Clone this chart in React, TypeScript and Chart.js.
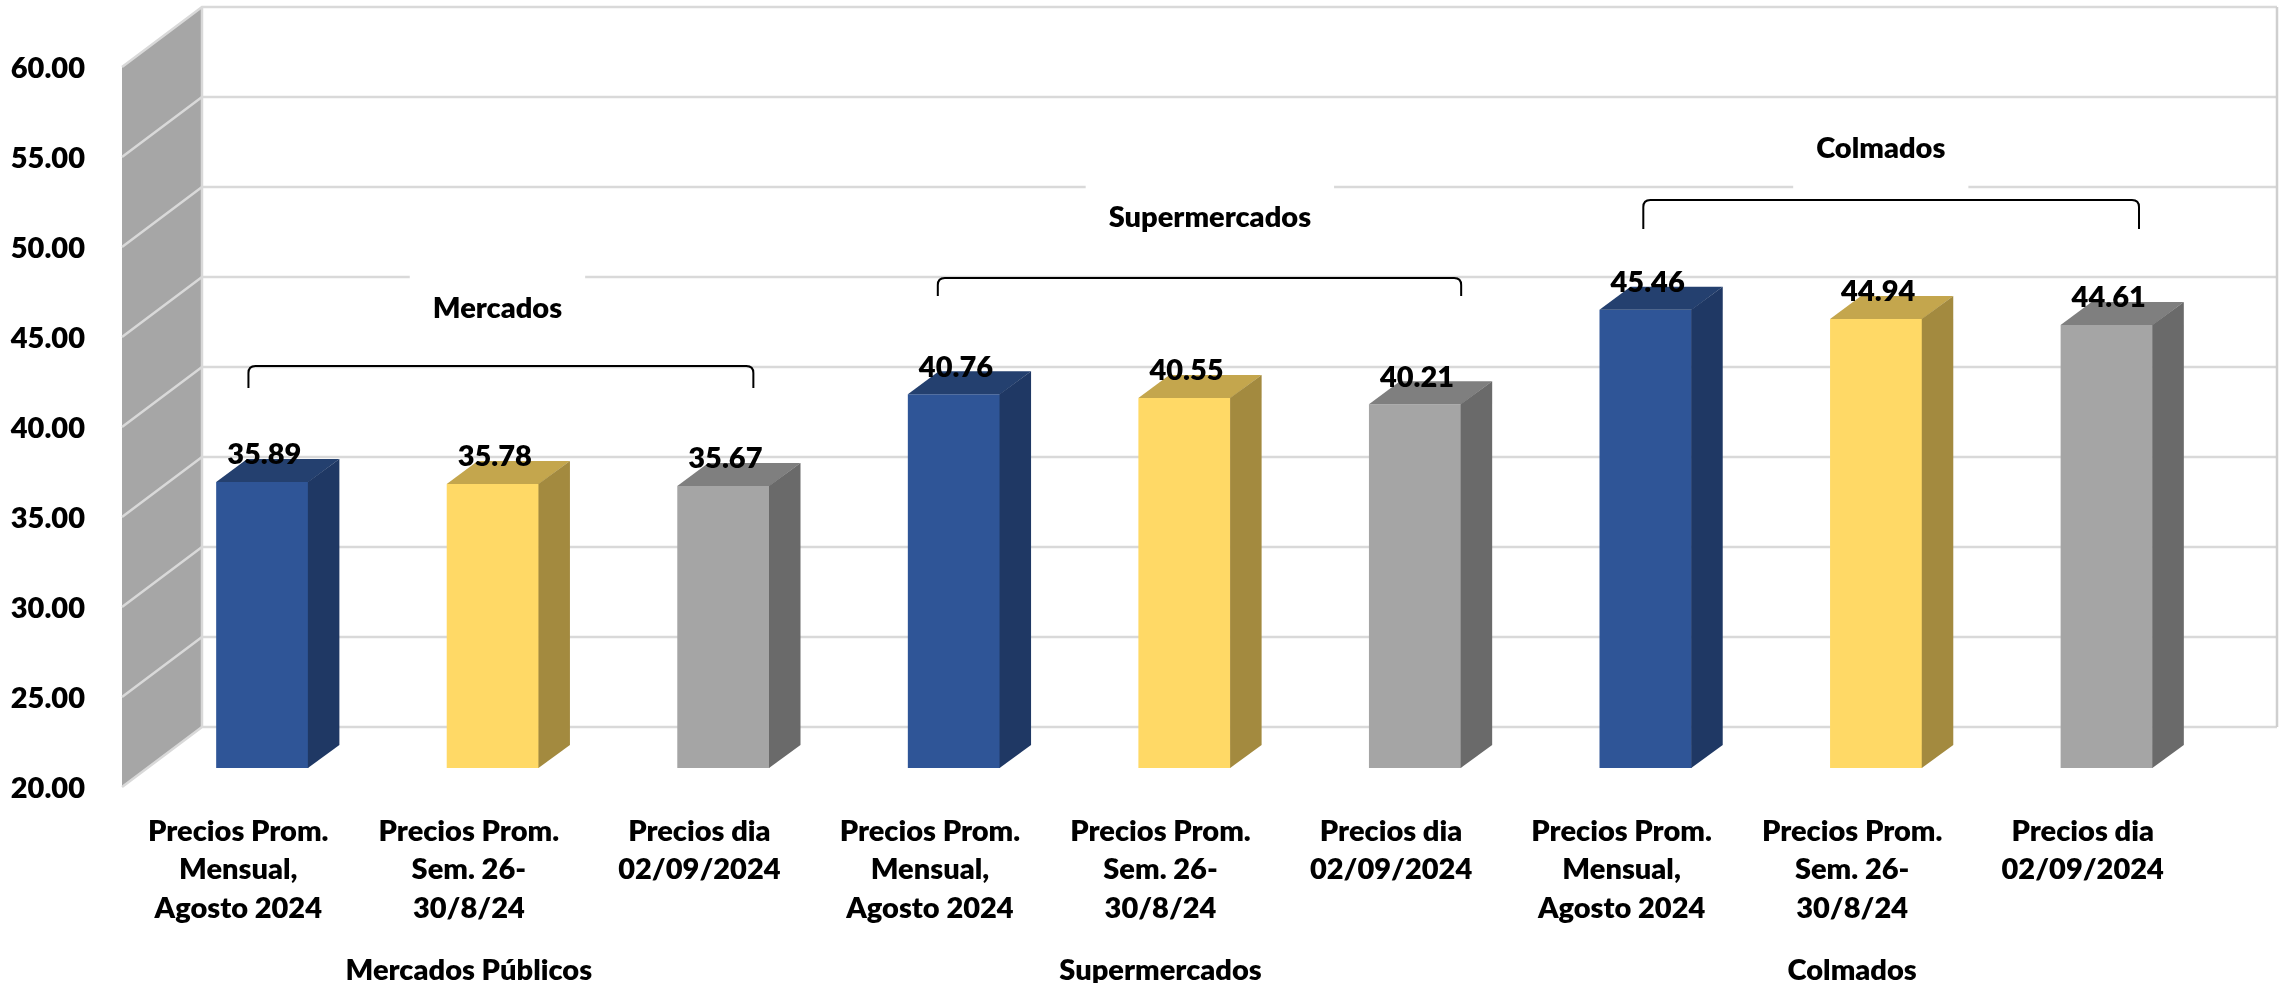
import React, { useEffect, useRef } from 'react';
import { Chart, registerables } from 'chart.js';

Chart.register(...registerables);

// ---------- data ----------
const groupNames = ['Mercados Públicos', 'Supermercados', 'Colmados'];
const periodLabels: string[][] = [
  ['Precios Prom.', 'Mensual,', 'Agosto 2024'],
  ['Precios Prom.', 'Sem. 26-', '30/8/24'],
  ['Precios dia', '02/09/2024'],
];
const mercadosValues = [35.89, 35.78, 35.67];
const supermercadosValues = [40.76, 40.55, 40.21];
const colmadosValues = [45.46, 44.94, 44.61];
const bracketTitles = ['Mercados', 'Supermercados', 'Colmados'];
const yTickValues = [20, 25, 30, 35, 40, 45, 50, 55, 60];

// ---------- styles ----------
const FRONT = ['#2F5597', '#FFD966', '#A5A5A5'];
const TOP = ['#24406F', '#C4A64D', '#7F7F7F'];
const SIDE = ['#1F3864', '#A38A3F', '#6A6A6A'];
const FONT_FAMILY = 'Lato';
const FONT_SIZE = 29;
const FONT_WEIGHT = '800';
const FONT = { family: FONT_FAMILY, weight: FONT_WEIGHT as any, size: FONT_SIZE };

// 3D geometry offsets (pixels)
const BAR_DEPTH = { dx: 31, dy: -23 };
const BACK_WALL = { dx: 55, dy: -41 };
const FRONT_EDGE = { dx: -25, dy: 19 };

// annotation placement: x in category index units, y in value units
const BRACKETS = [
  { x1: -0.06, x2: 2.13, yTop: 42.33, yEnd: 41.11, tx: 1.02, ty: 45.61 },
  { x1: 2.93, x2: 5.2, yTop: 47.22, yEnd: 46.22, tx: 4.11, ty: 50.67 },
  { x1: 5.99, x2: 8.14, yTop: 51.56, yEnd: 49.94, tx: 7.02, ty: 54.5 },
];

const categoryLabels = groupNames.flatMap(() => periodLabels);
const values = [...mercadosValues, ...supermercadosValues, ...colmadosValues];
const groupRow = groupNames.flatMap((g) => periodLabels.map((_, j) => (j === 1 ? g : '')));
const kindIndex = categoryLabels.map((_, i) => i % periodLabels.length);

const threeDPlugin = {
  id: 'threeD',
  beforeDatasetsDraw(chart: any) {
    const { ctx, chartArea: a } = chart;
    const x = chart.scales.x;
    const y = chart.scales.y;
    const yTop = y.getPixelForValue(y.max);
    const yBot = y.getPixelForValue(y.min);
    ctx.save();
    // left wall
    ctx.fillStyle = '#A6A6A6';
    ctx.beginPath();
    ctx.moveTo(a.left + FRONT_EDGE.dx, yTop + FRONT_EDGE.dy);
    ctx.lineTo(a.left + BACK_WALL.dx, yTop + BACK_WALL.dy);
    ctx.lineTo(a.left + BACK_WALL.dx, yBot + BACK_WALL.dy);
    ctx.lineTo(a.left + FRONT_EDGE.dx, yBot + FRONT_EDGE.dy);
    ctx.closePath();
    ctx.fill();
    // gridlines
    ctx.strokeStyle = '#D9D9D9';
    ctx.lineWidth = 2.5;
    yTickValues.forEach((v) => {
      const py = y.getPixelForValue(v);
      ctx.beginPath();
      ctx.moveTo(a.left + FRONT_EDGE.dx, py + FRONT_EDGE.dy);
      ctx.lineTo(a.left + BACK_WALL.dx, py + BACK_WALL.dy);
      ctx.lineTo(a.right + BACK_WALL.dx, py + BACK_WALL.dy);
      ctx.stroke();
    });
    ctx.beginPath();
    ctx.moveTo(a.left + BACK_WALL.dx, yTop + BACK_WALL.dy);
    ctx.lineTo(a.left + BACK_WALL.dx, yBot + BACK_WALL.dy);
    ctx.stroke();
    ctx.strokeStyle = '#CFCFCF';
    ctx.beginPath();
    ctx.moveTo(a.right + BACK_WALL.dx, yTop + BACK_WALL.dy);
    ctx.lineTo(a.right + BACK_WALL.dx, yBot + BACK_WALL.dy);
    ctx.stroke();

    // annotations (group titles with brackets)
    ctx.font = `${FONT_WEIGHT} ${FONT_SIZE}px ${FONT_FAMILY}`;
    ctx.textAlign = 'center';
    ctx.textBaseline = 'middle';
    BRACKETS.forEach((b, i) => {
      const tx = x.getPixelForValue(b.tx);
      const ty = y.getPixelForValue(b.ty);
      const w = ctx.measureText(bracketTitles[i]).width + 46;
      ctx.fillStyle = '#FFFFFF';
      ctx.fillRect(tx - w / 2, ty - 45, w, 90);
      ctx.fillStyle = '#000000';
      ctx.fillText(bracketTitles[i], tx, ty + 2);
      const x1 = x.getPixelForValue(b.x1);
      const x2 = x.getPixelForValue(b.x2);
      const yT = y.getPixelForValue(b.yTop);
      const yE = y.getPixelForValue(b.yEnd);
      const r = 7;
      ctx.strokeStyle = '#000000';
      ctx.lineWidth = 2;
      ctx.beginPath();
      ctx.moveTo(x1, yE);
      ctx.lineTo(x1, yT + r);
      ctx.quadraticCurveTo(x1, yT, x1 + r, yT);
      ctx.lineTo(x2 - r, yT);
      ctx.quadraticCurveTo(x2, yT, x2, yT + r);
      ctx.lineTo(x2, yE);
      ctx.stroke();
    });
    ctx.restore();
  },
  afterDatasetsDraw(chart: any) {
    const { ctx } = chart;
    const y = chart.scales.y;
    const floor = y.getPixelForValue(y.min);
    const meta = chart.getDatasetMeta(0);
    ctx.save();
    meta.data.forEach((el: any, i: number) => {
      const p = el.getProps(['x', 'y', 'base', 'width'], true);
      const l = p.x - p.width / 2;
      const r = p.x + p.width / 2;
      const top = p.y;
      const base = Math.min(p.base, floor);
      const k = kindIndex[i];
      ctx.fillStyle = TOP[k];
      ctx.beginPath();
      ctx.moveTo(l, top);
      ctx.lineTo(r, top);
      ctx.lineTo(r + BAR_DEPTH.dx, top + BAR_DEPTH.dy);
      ctx.lineTo(l + BAR_DEPTH.dx, top + BAR_DEPTH.dy);
      ctx.closePath();
      ctx.fill();
      ctx.fillStyle = SIDE[k];
      ctx.beginPath();
      ctx.moveTo(r - 0.5, top);
      ctx.lineTo(r + BAR_DEPTH.dx, top + BAR_DEPTH.dy);
      ctx.lineTo(r + BAR_DEPTH.dx, base + BAR_DEPTH.dy);
      ctx.lineTo(r - 0.5, base);
      ctx.closePath();
      ctx.fill();
    });
    ctx.font = `${FONT_WEIGHT} ${FONT_SIZE}px ${FONT_FAMILY}`;
    ctx.textAlign = 'center';
    ctx.textBaseline = 'middle';
    ctx.fillStyle = '#000000';
    meta.data.forEach((el: any, i: number) => {
      const p = el.getProps(['x', 'y'], true);
      ctx.fillText(values[i].toFixed(2), p.x + 2, p.y - 27);
    });
    ctx.restore();
  },
};

export default function App() {
  const canvasRef = useRef<HTMLCanvasElement | null>(null);

  useEffect(() => {
    const canvas = canvasRef.current;
    if (!canvas) return;
    const chart = new Chart(canvas, {
      type: 'bar',
      data: {
        labels: categoryLabels,
        datasets: [
          {
            data: values,
            backgroundColor: kindIndex.map((k) => FRONT[k]),
            borderWidth: 0,
            base: yTickValues[0],
            categoryPercentage: 1,
            barPercentage: 0.4,
          } as any,
        ],
      },
      options: {
        responsive: false,
        devicePixelRatio: 1,
        animation: false,
        layout: { padding: { top: 48, right: 63, left: 0, bottom: 0 } },
        plugins: {
          legend: { display: false },
          tooltip: { enabled: false },
        },
        scales: {
          x: {
            type: 'category',
            position: 'bottom',
            weight: 0,
            offset: true,
            grid: { display: false, drawTicks: false },
            border: { display: false },
            ticks: {
              color: '#000000',
              font: { ...FONT, lineHeight: 38.5 / FONT_SIZE },
              padding: 44,
              labelOffset: -24,
              autoSkip: false,
              maxRotation: 0,
              minRotation: 0,
            },
            afterFit: (s: any) => {
              s.height = 160;
              s.paddingLeft = 0;
              s.paddingRight = 0;
            },
          },
          x2: {
            type: 'category',
            position: 'bottom',
            weight: 1,
            offset: true,
            labels: groupRow,
            min: 0,
            max: groupRow.length - 1,
            grid: { display: false, drawTicks: false },
            border: { display: false },
            ticks: {
              color: '#000000',
              font: { ...FONT, lineHeight: 38.5 / FONT_SIZE },
              padding: 23,
              labelOffset: -24,
              autoSkip: false,
              maxRotation: 0,
              minRotation: 0,
            },
            afterFit: (s: any) => {
              s.height = 55;
              s.paddingLeft = 0;
              s.paddingRight = 0;
            },
          },
          y: {
            type: 'linear',
            min: yTickValues[0],
            max: yTickValues[yTickValues.length - 1],
            grid: { display: false, drawTicks: false },
            border: { display: false },
            afterBuildTicks: (s: any) => {
              s.ticks = yTickValues.map((v) => ({ value: v }));
            },
            ticks: {
              color: '#000000',
              font: FONT,
              padding: 62,
              labelOffset: 21,
              callback: (v: any) => Number(v).toFixed(2),
            },
            afterFit: (s: any) => {
              s.width = 147;
              s.paddingTop = 0;
              s.paddingBottom = 0;
            },
          },
        },
      } as any,
      plugins: [threeDPlugin],
    });
    return () => chart.destroy();
  }, []);

  return (
    <div style={{ position: 'absolute', left: 0, top: 0, width: 2285, height: 983, background: '#FFFFFF' }}>
      <canvas ref={canvasRef} width={2285} height={983} style={{ display: 'block' }} />
    </div>
  );
}
